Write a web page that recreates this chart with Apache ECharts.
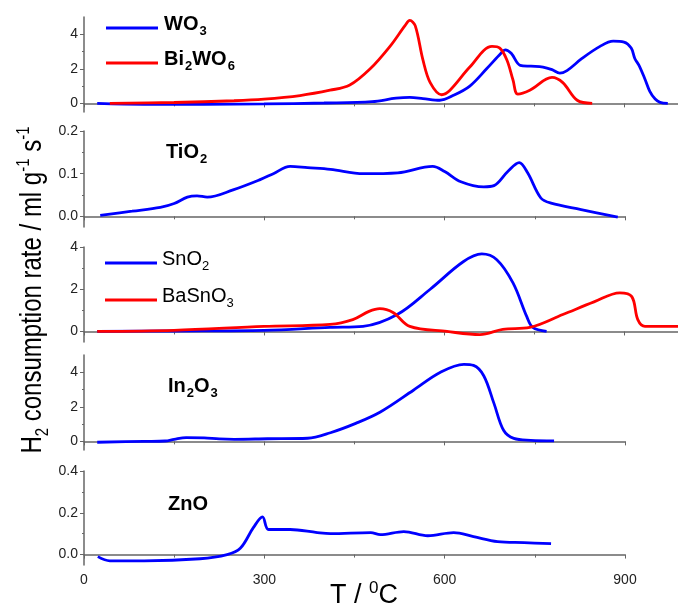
<!DOCTYPE html>
<html>
<head>
<meta charset="utf-8">
<script src="https://cdn.jsdelivr.net/npm/echarts@6/dist/echarts.min.js"></script>
<style>
  html, body { margin: 0; padding: 0; background: #fff; }
  #chart { width: 678px; height: 615px; }
</style>
</head>
<body>
<div id="chart"></div>
<script>
  // temperature (°C) / H2 consumption rate pairs
  const wo3 = [[22,0],[100,-0.05],[200,-0.05],[300,-0.03],[400,0.02],[480,0.1],[520,0.3],[543,0.35],[565,0.28],[593,0.18],[615,0.45],[643,1.0],[671,2.0],[695,2.9],[702,3.1],[712,2.9],[727,2.2],[745,2.15],[765,2.1],[780,1.95],[793,1.75],[805,1.9],[830,2.6],[860,3.3],[882,3.6],[900,3.55],[912,3.2],[918,2.6],[925,2.2],[935,1.4],[943,0.7],[952,0.25],[960,0.06],[973,0]];
  const bi2wo6 = [[43,0],[150,0.05],[250,0.15],[300,0.24],[360,0.45],[410,0.76],[443,1.06],[477,2.0],[510,3.3],[535,4.5],[543,4.8],[552,4.5],[565,2.5],[577,1.2],[596,0.5],[610,0.76],[643,2.1],[680,3.3],[693,3.2],[705,2.5],[715,1.35],[723,0.53],[743,0.76],[780,1.5],[798,1.2],[822,0.18],[847,0]];
  const tio2 = [[27,0.002],[80,0.012],[127,0.021],[150,0.03],[172,0.045],[188,0.048],[205,0.045],[248,0.062],[293,0.086],[315,0.1],[343,0.117],[372,0.114],[410,0.11],[465,0.1],[522,0.102],[580,0.117],[600,0.105],[627,0.081],[665,0.069],[682,0.072],[705,0.105],[724,0.126],[738,0.102],[760,0.043],[777,0.031],[827,0.016],[888,-0.002]];
  const sno2 = [[22,0],[150,0.02],[300,0.05],[410,0.19],[465,0.24],[522,0.8],[577,2.0],[632,3.3],[663,3.67],[688,3.4],[715,2.3],[738,0.7],[748,0.19],[771,0]];
  const basno3 = [[22,0],[150,0.05],[300,0.24],[410,0.33],[448,0.56],[475,0.95],[493,1.08],[515,0.9],[543,0.24],[605,0.0],[660,-0.15],[698,0.1],[743,0.19],[798,0.8],[850,1.4],[893,1.83],[913,1.65],[923,0.56],[935,0.24],[990,0.24]];
  const in2o3 = [[22,-0.05],[100,0],[135,0.02],[150,0.12],[170,0.22],[200,0.2],[225,0.14],[250,0.12],[305,0.15],[372,0.18],[410,0.5],[452,1.04],[493,1.7],[548,2.96],[593,4.0],[632,4.46],[648,4.4],[665,3.8],[682,2.2],[698,0.64],[715,0.17],[743,0.06],[782,0.03]];
  const zno = [[23,-0.01],[43,-0.03],[100,-0.03],[193,-0.02],[238,0],[260,0.03],[282,0.13],[297,0.18],[307,0.12],[343,0.12],[388,0.105],[410,0.1],[477,0.105],[493,0.095],[532,0.11],[572,0.09],[615,0.105],[648,0.086],[688,0.062],[732,0.057],[777,0.052]];

  const xTickLabels = [0, 300, 600, 900];

  // one panel per material group, top to bottom
  const panels = [
    { top: 17,  height: 95, width: 594, xMax: 990, yMin: -0.5,   yMax: 5,   major: [0, 2, 4],       minor: [1, 3],        digits: 0 },
    { top: 131, height: 96, width: 541, xMax: 900, yMin: -0.025, yMax: 0.2, major: [0, 0.1, 0.2],   minor: [0.05, 0.15],  digits: 1 },
    { top: 247, height: 95, width: 594, xMax: 990, yMin: -0.5,   yMax: 4,   major: [0, 2, 4],       minor: [1, 3],        digits: 0 },
    { top: 355, height: 95, width: 541, xMax: 900, yMin: -0.5,   yMax: 5,   major: [0, 2, 4],       minor: [1, 3],        digits: 0 },
    { top: 471, height: 94, width: 541, xMax: 900, yMin: -0.05,  yMax: 0.4, major: [0, 0.2, 0.4],   minor: [0.1, 0.3],    digits: 1 }
  ];

  const lines = [
    { data: wo3, panel: 0, color: '#0000ff' },
    { data: bi2wo6, panel: 0, color: '#ff0000' },
    { data: tio2, panel: 1, color: '#0000ff' },
    { data: sno2, panel: 2, color: '#0000ff' },
    { data: basno3, panel: 2, color: '#ff0000' },
    { data: in2o3, panel: 3, color: '#0000ff' },
    { data: zno, panel: 4, color: '#0000ff' }
  ];

  const axisColor = '#666';
  const font = 'Liberation Sans, Arial, sans-serif';

  let grid = [], xAxis = [], yAxis = [];
  panels.forEach((p, i) => {
    grid.push({ left: 84, top: p.top, width: p.width, height: p.height });
    const last = i === panels.length - 1;
    xAxis.push({
      type: 'value', gridIndex: i, min: 0, max: p.xMax, interval: 300,
      axisLine: { lineStyle: { color: axisColor, width: 1.5 } },
      axisTick: { length: 4, lineStyle: { color: axisColor } },
      minorTick: { show: true, splitNumber: 2, length: 3, lineStyle: { color: axisColor } },
      splitLine: { show: false },
      axisLabel: {
        show: last, color: '#222', fontSize: 14, fontFamily: font, margin: 8,
        customValues: xTickLabels
      }
    });
    yAxis.push({
      type: 'value', gridIndex: i, min: p.yMin, max: p.yMax,
      axisLine: { show: true, lineStyle: { color: axisColor, width: 1.5 } },
      axisTick: { customValues: p.major, length: 4, lineStyle: { color: axisColor } },
      splitLine: { show: false },
      axisLabel: {
        customValues: p.major, color: '#222', fontSize: 14, fontFamily: font, margin: 6,
        formatter: v => v.toFixed(p.digits)
      }
    });
    // shorter minor ticks on a second, invisible axis
    yAxis.push({
      type: 'value', gridIndex: i, min: p.yMin, max: p.yMax, position: 'left',
      axisLine: { show: false },
      axisTick: { customValues: p.minor, length: 2, lineStyle: { color: axisColor } },
      splitLine: { show: false },
      axisLabel: { show: false }
    });
  });

  const series = lines.map(l => ({
    type: 'line', xAxisIndex: l.panel, yAxisIndex: l.panel * 2,
    data: l.data, smooth: 0.35, showSymbol: false, silent: true,
    lineStyle: { color: l.color, width: 2.8 }
  }));

  const lbl = {
    b: { fontSize: 20, fontWeight: 'bold', fontFamily: font, color: '#111', lineHeight: 28, verticalAlign: 'middle' },
    bs: { fontSize: 13, fontWeight: 'bold', fontFamily: font, color: '#111', lineHeight: 28, verticalAlign: 'bottom', padding: [0, 0, 0, 1] },
    n: { fontSize: 20, fontFamily: font, color: '#111', lineHeight: 28, verticalAlign: 'middle' },
    ns: { fontSize: 13, fontFamily: font, color: '#111', lineHeight: 28, verticalAlign: 'bottom' }
  };

  function label(x, y, text) {
    return { type: 'text', left: x, top: y - 14, style: { text: text, rich: lbl } };
  }
  function key(x, y, color) {
    return { type: 'line', shape: { x1: x, y1: y, x2: x + 52, y2: y }, style: { stroke: color, lineWidth: 2.8 } };
  }

  const graphic = [
    key(106, 28, '#0000ff'), label(164, 28, '{b|WO}{bs|3}'),
    key(106, 63, '#ff0000'), label(164, 63, '{b|Bi}{bs|2}{b|WO}{bs|6}'),
    label(166, 156, '{b|TiO}{bs|2}'),
    key(105, 263, '#0000ff'), label(162, 263, '{n|SnO}{ns|2}'),
    key(105, 300, '#ff0000'), label(162, 300, '{n|BaSnO}{ns|3}'),
    label(168, 390, '{b|In}{bs|2}{b|O}{bs|3}'),
    label(168, 508, '{b|ZnO}'),
    {
      type: 'text', x: 33, y: 290, rotation: Math.PI / 2, scaleY: 1.25,
      style: {
        text: '{t|H}{s|2}{t| consumption rate / ml g}{p|-1}{t| s}{p|-1}',
        align: 'center', verticalAlign: 'middle',
        rich: {
          t: { fontSize: 24, fontFamily: font, color: '#111', lineHeight: 30, verticalAlign: 'middle' },
          s: { fontSize: 15, fontFamily: font, color: '#111', lineHeight: 30, verticalAlign: 'bottom' },
          p: { fontSize: 15, fontFamily: font, color: '#111', lineHeight: 30, verticalAlign: 'top' }
        }
      }
    },
    {
      type: 'text', x: 364, y: 596,
      style: {
        text: '{t|T / }{p|0}{t|C}', align: 'center', verticalAlign: 'middle',
        rich: {
          t: { fontSize: 27, fontFamily: font, color: '#111', lineHeight: 32, verticalAlign: 'middle' },
          p: { fontSize: 17, fontFamily: font, color: '#111', lineHeight: 32, verticalAlign: 'top' }
        }
      }
    }
  ];

  const chart = echarts.init(document.getElementById('chart'), null, { renderer: 'canvas' });
  chart.setOption({
    animation: false,
    backgroundColor: '#fff',
    grid: grid,
    xAxis: xAxis,
    yAxis: yAxis,
    series: series,
    graphic: graphic
  });
  window.addEventListener('resize', () => { chart.resize(); });
</script>
</body>
</html>
